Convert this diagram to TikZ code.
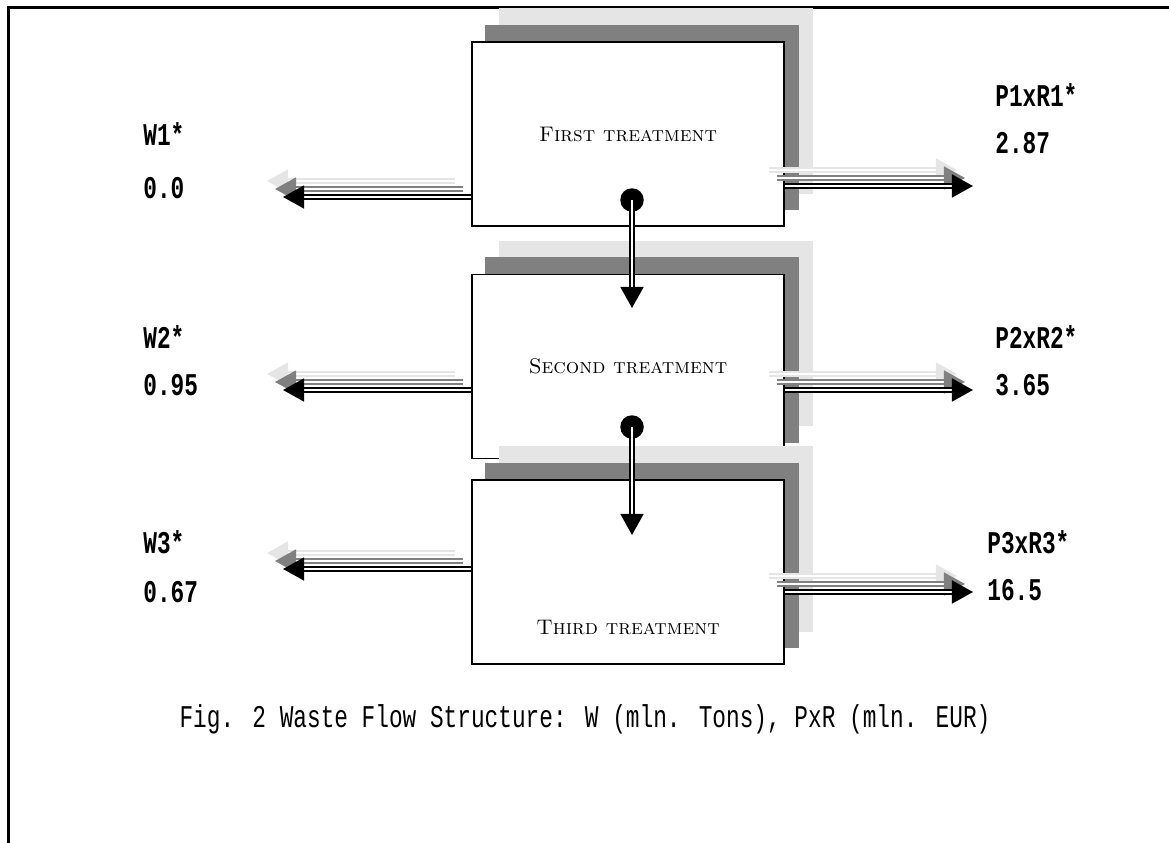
\documentclass[tikz,border=0pt]{standalone}
\usepackage{fontspec}
\newfontfamily\labelfont[FakeStretch=0.72]{Liberation Mono}
\usetikzlibrary{arrows.meta,positioning,shadows}

\begin{document}
\begin{tikzpicture}[
    % GLOBAL CFG
    >={Triangle[length=12pt,width=13pt]},
    % Styles
    frame/.style={% For the outer frame
        line width=1.4pt,
        },
    treat/.style={% For the treatment boxes
        rectangle,
        draw,
        thick,
        fill=white,
        minimum width=6.24cm,
        minimum height=3.68cm,
        font=\fontsize{12}{14}\selectfont\scshape,
        copy shadow={shadow xshift=0.56cm, shadow yshift=0.66cm, fill=black!10, draw=black!10},
        copy shadow={shadow xshift=0.28cm, shadow yshift=0.33cm, fill=gray, draw=gray},
        },
    boxtext/.style={% For text set apart in a box
        font=\fontsize{12}{14}\selectfont\scshape,
        },
    dot/.style={% For the start of a flow
        circle,
        fill,
        inner sep=0pt,
        minimum size=0.47cm,
        },
    flow/.style={% Double lined flow arrows
        ->,
        double,
        line width=1.3pt,
        double distance=1.2pt,
        },
    val/.style={% For names and values
        font=\labelfont\bfseries\fontsize{18}{20}\selectfont,
        anchor=west,
        inner sep=0pt,
        },
    captext/.style={% For the caption
        font=\labelfont\fontsize{18}{20}\selectfont,
        },
    ]

% Fix the page
\useasboundingbox (0,0) rectangle (23.38,-16.86);

% Draw the frame
\coordinate (fbl) at (0.17,-16.86);
\coordinate (ftr) at (23.38,-0.15);
\draw [frame] (fbl) |- (ftr);

% Draw the boxes named box#
\node [treat] (box1) at (12.56,-2.68) {First treatment};
\node [treat] (box2) at (12.56,-7.33) {Second treatment};
\node [treat] (box3) at (12.56,-11.44) {};
\node [boxtext, yshift=-1.12cm] (t3) at (box3.center) {Third treatment};

% Draw the dots and the ends of the flows
\node [dot] (dot1) at (12.64,-4.0) {};
\node [dot] (dot2) at (12.64,-8.54) {};
\coordinate (in2) at (12.64,-6.16);
\coordinate (in3) at (12.64,-10.70);
\coordinate (w1) at (5.66,-3.94);
\coordinate (w2) at (5.66,-7.8);
\coordinate (w3) at (5.66,-11.38);
\coordinate (p1) at (19.46,-3.72);
\coordinate (p2) at (19.46,-7.8);
\coordinate (p3) at (19.46,-11.84);

% Waste and product flows, with their grey copies
\foreach \s/\c in {0.32/black!10, 0.16/gray, 0/black}{
    \draw [flow, draw=\c, transform canvas={shift={(-\s,\s)}}] (w1 -| box1.west) -- (w1);
    \draw [flow, draw=\c, transform canvas={shift={(-\s,\s)}}] (w2 -| box2.west) -- (w2);
    \draw [flow, draw=\c, transform canvas={shift={(-\s,\s)}}] (w3 -| box3.west) -- (w3);
    \draw [flow, draw=\c, transform canvas={shift={(-\s,\s)}}] (p1 -| box1.east) -- (p1);
    \draw [flow, draw=\c, transform canvas={shift={(-\s,\s)}}] (p2 -| box2.east) -- (p2);
    \draw [flow, draw=\c, transform canvas={shift={(-\s,\s)}}] (p3 -| box3.east) -- (p3);
}

% Flows between the treatments
\draw [flow] (dot1.center) -- (in2);
\draw [flow] (dot2.center) -- (in3);

% Names and values
\node [val] (lw1) at (2.86,-2.68) {W1*};
\node [val] (vw1) at (2.86,-3.76) {0.0};
\node [val] (lw2) at (2.86,-6.74) {W2*};
\node [val] (vw2) at (2.86,-7.7) {0.95};
\node [val] (lw3) at (2.86,-10.84) {W3*};
\node [val] (vw3) at (2.86,-11.84) {0.67};
\node [val] (lp1) at (19.9,-1.9) {P1xR1*};
\node [val] (vp1) at (19.9,-2.86) {2.87};
\node [val] (lp2) at (19.9,-6.74) {P2xR2*};
\node [val] (vp2) at (19.9,-7.7) {3.65};
\node [val] (lp3) at (19.74,-10.84) {P3xR3*};
\node [val] (vp3) at (19.74,-11.8) {16.5};

% Caption
\node [captext] (caption) at (11.7,-14.38) {Fig. 2 Waste Flow Structure: W (mln. Tons), PxR (mln. EUR)};

\end{tikzpicture}
\end{document}
